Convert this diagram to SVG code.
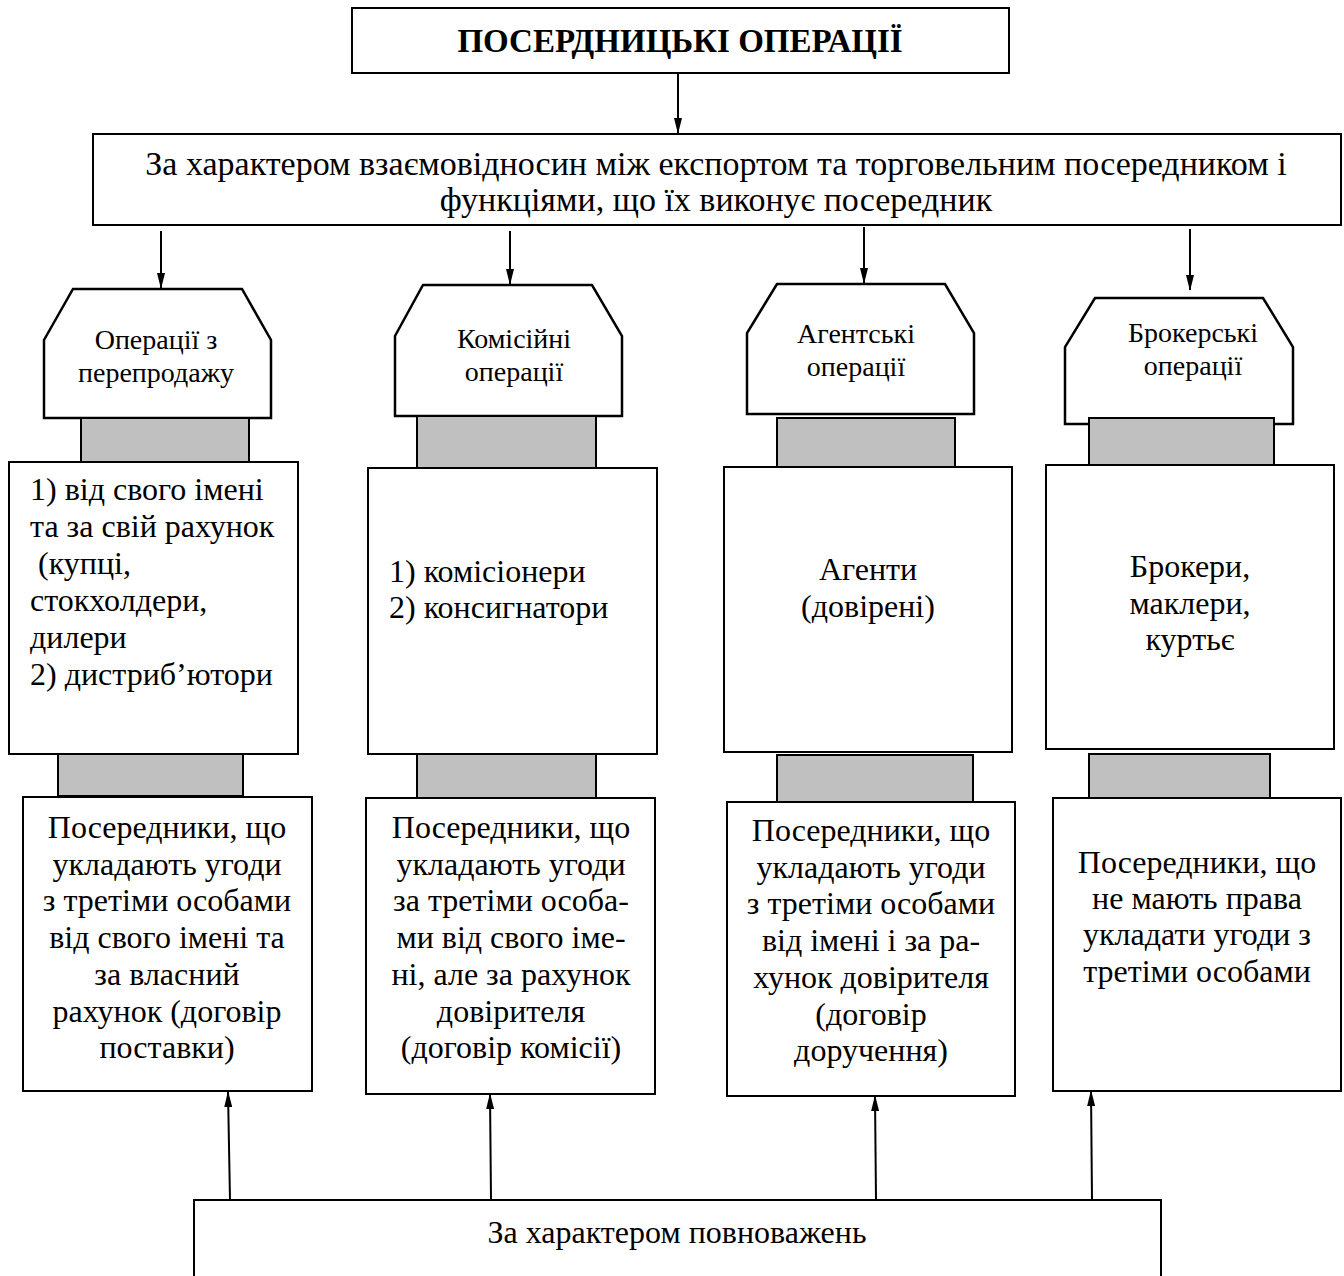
<svg xmlns="http://www.w3.org/2000/svg" width="1344" height="1276" viewBox="0 0 1344 1276">
  <style>
    .box { fill: #ffffff; stroke: #000000; stroke-width: 2; }
    .head { fill: #ffffff; stroke: #000000; stroke-width: 2.5; stroke-linejoin: miter; }
    .bar { fill: #c0c0c0; stroke: #000000; stroke-width: 2; }
    .link { stroke: #000000; stroke-width: 2; fill: none; }
    text { font-family: "Liberation Serif", "Times New Roman", serif; fill: #000000; }
    .t34 { font-size: 34px; }
    .t32 { font-size: 32px; }
    .t28 { font-size: 28px; }
    .c { text-anchor: middle; }
    .title { font-size: 33px; font-weight: bold; }
  </style>
  <defs>
    <marker id="arrow" markerWidth="16" markerHeight="8" refX="15" refY="4" orient="auto" markerUnits="userSpaceOnUse">
      <path d="M0,0 L16,4 L0,8 Z" fill="#000000"/>
    </marker>
  </defs>

  <rect x="0" y="0" width="1344" height="1276" fill="#ffffff"/>

  <!-- top title -->
  <g id="title">
    <rect class="box" x="352" y="8" width="657" height="65"/>
    <text class="title c" x="680" y="52">ПОСЕРДНИЦЬКІ ОПЕРАЦІЇ</text>
  </g>

  <!-- first classification criterion -->
  <g id="criterion-relations">
    <rect class="box" x="93" y="134" width="1248" height="91"/>
    <text class="t34 c" x="716" y="175">За характером взаємовідносин між експортом та торговельним посередником і</text>
    <text class="t34 c" x="716" y="211">функціями, що їх виконує посередник</text>
  </g>

  <!-- column 1: resale operations -->
  <g id="resale">
    <path class="head" d="M73,289 L242,289 L271,340 L271,418 L44,418 L44,340 Z"/>
    <text class="t28 c" x="156" y="349">Операції з</text>
    <text class="t28 c" x="156" y="382">перепродажу</text>
    <rect class="bar" x="81" y="418" width="168" height="45"/>
    <rect class="box" x="9" y="462" width="289" height="292"/>
    <text class="t32" x="30" y="500">1) від свого імені</text>
    <text class="t32" x="30" y="537">та за свій рахунок</text>
    <text class="t32" x="30" y="574" xml:space="preserve"> (купці,</text>
    <text class="t32" x="30" y="611">стокхолдери,</text>
    <text class="t32" x="30" y="648">дилери</text>
    <text class="t32" x="30" y="685">2) дистриб’ютори</text>
    <rect class="bar" x="58" y="754" width="185" height="42"/>
    <rect class="box" x="23" y="797" width="289" height="294"/>
    <text class="t32 c" x="167" y="838">Посередники, що</text>
    <text class="t32 c" x="167" y="875">укладають угоди</text>
    <text class="t32 c" x="167" y="911">з третіми особами</text>
    <text class="t32 c" x="167" y="948">від свого імені та</text>
    <text class="t32 c" x="167" y="985">за власний</text>
    <text class="t32 c" x="167" y="1022">рахунок (договір</text>
    <text class="t32 c" x="167" y="1058">поставки)</text>
  </g>

  <!-- column 2: commission operations -->
  <g id="commission">
    <path class="head" d="M423,285 L592,285 L622,336 L622,416 L395,416 L395,336 Z"/>
    <text class="t28 c" x="514" y="348">Комісійні</text>
    <text class="t28 c" x="514" y="381">операції</text>
    <rect class="bar" x="417" y="416" width="179" height="52"/>
    <rect class="box" x="368" y="468" width="289" height="286"/>
    <text class="t32" x="389" y="582">1) комісіонери</text>
    <text class="t32" x="389" y="618">2) консигнатори</text>
    <rect class="bar" x="417" y="754" width="179" height="44"/>
    <rect class="box" x="366" y="798" width="289" height="296"/>
    <text class="t32 c" x="511" y="838">Посередники, що</text>
    <text class="t32 c" x="511" y="875">укладають угоди</text>
    <text class="t32 c" x="511" y="911">за третіми особа-</text>
    <text class="t32 c" x="511" y="948">ми від свого іме-</text>
    <text class="t32 c" x="511" y="985">ні, але за рахунок</text>
    <text class="t32 c" x="511" y="1022">довірителя</text>
    <text class="t32 c" x="511" y="1058">(договір комісії)</text>
  </g>

  <!-- column 3: agency operations -->
  <g id="agency">
    <path class="head" d="M777,284 L945,284 L974,333 L974,414 L747,414 L747,333 Z"/>
    <text class="t28 c" x="856" y="343">Агентські</text>
    <text class="t28 c" x="856" y="376">операції</text>
    <rect class="bar" x="777" y="418" width="178" height="49"/>
    <rect class="box" x="724" y="467" width="288" height="285"/>
    <text class="t32 c" x="868" y="580">Агенти</text>
    <text class="t32 c" x="868" y="617">(довірені)</text>
    <rect class="bar" x="777" y="755" width="196" height="47"/>
    <rect class="box" x="727" y="802" width="288" height="294"/>
    <text class="t32 c" x="871" y="841">Посередники, що</text>
    <text class="t32 c" x="871" y="878">укладають угоди</text>
    <text class="t32 c" x="871" y="914">з третіми особами</text>
    <text class="t32 c" x="871" y="951">від імені і за ра-</text>
    <text class="t32 c" x="871" y="988">хунок довірителя</text>
    <text class="t32 c" x="871" y="1025">(договір</text>
    <text class="t32 c" x="871" y="1061">доручення)</text>
  </g>

  <!-- column 4: brokerage operations -->
  <g id="brokerage">
    <path class="head" d="M1095,298 L1263,298 L1293,347 L1293,424 L1065,424 L1065,347 Z"/>
    <text class="t28 c" x="1193" y="342">Брокерські</text>
    <text class="t28 c" x="1193" y="375">операції</text>
    <rect class="bar" x="1089" y="418" width="185" height="48"/>
    <rect class="box" x="1046" y="465" width="288" height="284"/>
    <text class="t32 c" x="1190" y="577">Брокери,</text>
    <text class="t32 c" x="1190" y="614">маклери,</text>
    <text class="t32 c" x="1190" y="650">куртьє</text>
    <rect class="bar" x="1089" y="754" width="181" height="52"/>
    <rect class="box" x="1053" y="798" width="288" height="293"/>
    <text class="t32 c" x="1197" y="873">Посередники, що</text>
    <text class="t32 c" x="1197" y="909">не мають права</text>
    <text class="t32 c" x="1197" y="945">укладати угоди з</text>
    <text class="t32 c" x="1197" y="982">третіми особами</text>
  </g>

  <!-- second classification criterion -->
  <g id="criterion-authority">
    <rect class="box" x="194" y="1200" width="967" height="100"/>
    <text class="t32 c" x="677" y="1243">За характером повноважень</text>
  </g>

  <!-- connectors -->
  <g id="connectors">
    <line class="link" x1="678" y1="73" x2="678" y2="133" marker-end="url(#arrow)"/>
    <line class="link" x1="161" y1="231" x2="161" y2="288" marker-end="url(#arrow)"/>
    <line class="link" x1="510" y1="231" x2="510" y2="284" marker-end="url(#arrow)"/>
    <line class="link" x1="864" y1="227" x2="864" y2="283" marker-end="url(#arrow)"/>
    <line class="link" x1="1190" y1="229" x2="1190" y2="290" marker-end="url(#arrow)"/>
    <line class="link" x1="230" y1="1200" x2="228" y2="1092" marker-end="url(#arrow)"/>
    <line class="link" x1="491" y1="1200" x2="490" y2="1094" marker-end="url(#arrow)"/>
    <line class="link" x1="876" y1="1200" x2="875" y2="1096" marker-end="url(#arrow)"/>
    <line class="link" x1="1092" y1="1200" x2="1091" y2="1091" marker-end="url(#arrow)"/>
  </g>
</svg>
